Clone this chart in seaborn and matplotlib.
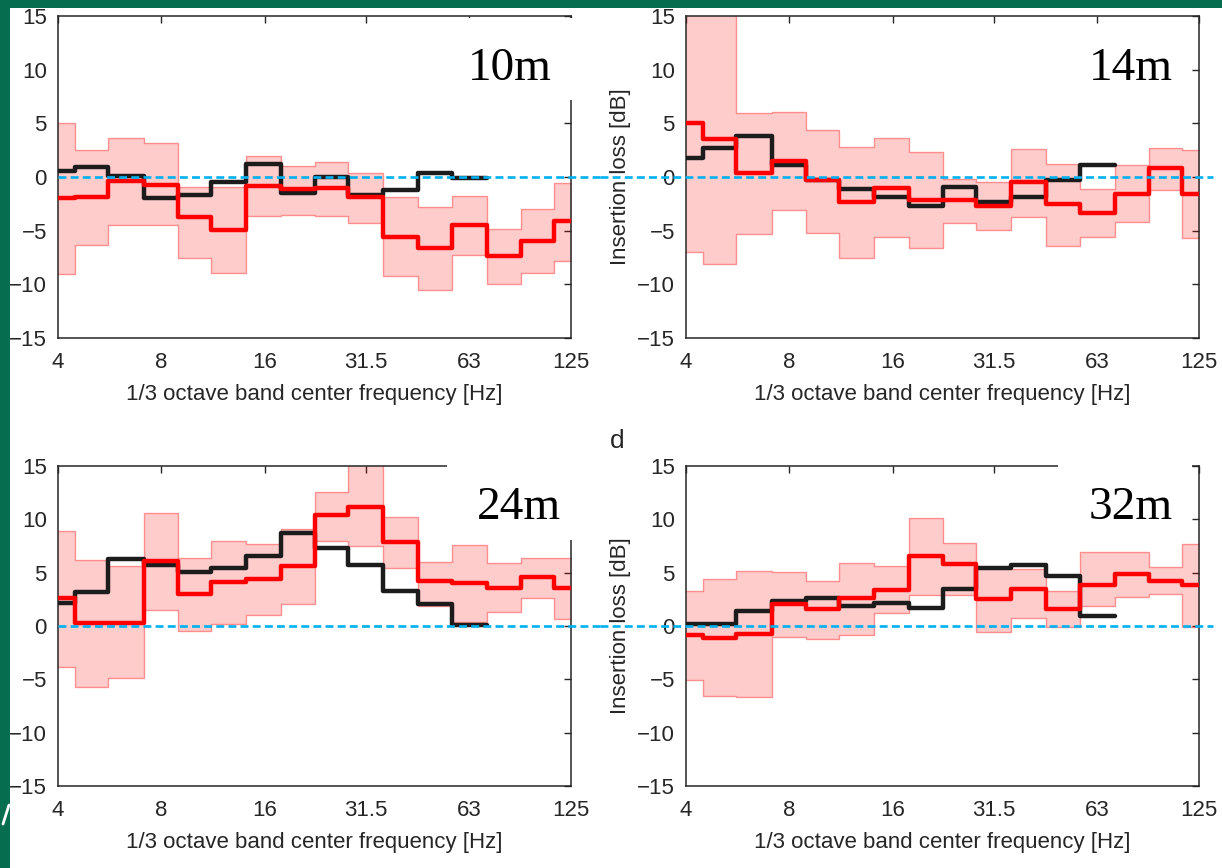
import numpy as np
import matplotlib
matplotlib.use("Agg")
import matplotlib.pyplot as plt
import seaborn as sns
from matplotlib.patches import Rectangle
from matplotlib.lines import Line2D

# ---------------- data ----------------
bands = [4, 5, 6.3, 8, 10, 12.5, 16, 20, 25, 31.5, 40, 50, 63, 80, 100, 125]
tick_values = [4, 8, 16, 31.5, 63, 125]
tick_labels = ["4", "8", "16", "31.5", "63", "125"]
y_ticks = [-15, -10, -5, 0, 5, 10, 15]
panel_labels = ["10m", "14m", "24m", "32m"]

red_10 = [-2.0, -1.9, -0.4, -0.7, -3.75, -4.9, -0.85, -1.1, -1.0, -1.9, -5.6, -6.6, -4.45, -7.4, -6.0, -4.1]
black_10 = [0.6, 0.9, 0.1, -2.0, -1.7, -0.5, 1.2, -1.45, 0.0, -1.65, -1.25, 0.35, -0.05]
upper_10 = [5.0, 2.5, 3.6, 3.15, -0.95, -0.9, 2.0, 1.0, 1.4, 0.4, -1.9, -2.8, -1.8, -4.8, -3.0, -0.6]
lower_10 = [-9.05, -6.3, -4.5, -4.45, -7.55, -8.9, -3.6, -3.5, -3.6, -4.3, -9.2, -10.5, -7.3, -9.95, -8.9, -7.8]

red_14 = [5.0, 3.5, 0.4, 1.5, -0.3, -2.3, -1.05, -2.1, -2.1, -2.7, -0.5, -2.5, -3.4, -1.6, 0.8, -1.6]
black_14 = [1.8, 2.7, 3.8, 1.1, -0.3, -1.1, -1.9, -2.7, -0.9, -2.3, -1.9, -0.3, 1.1]
upper_14 = [17.0, 17.0, 6.0, 6.1, 4.4, 2.8, 3.6, 2.3, -0.2, -0.5, 2.6, 1.2, -1.1, 1.1, 2.7, 2.5]
lower_14 = [-7.0, -8.1, -5.3, -3.1, -5.2, -7.5, -5.6, -6.6, -4.3, -4.9, -3.7, -6.4, -5.6, -4.2, -1.2, -5.7]

red_24 = [2.6, 0.3, 0.3, 6.1, 3.0, 4.1, 4.4, 5.6, 10.4, 11.2, 7.9, 4.2, 4.0, 3.6, 4.6, 3.6]
black_24 = [2.2, 3.2, 6.3, 5.7, 5.1, 5.4, 6.6, 8.7, 7.3, 5.7, 3.3, 2.1, 0.05]
upper_24 = [8.9, 6.2, 5.6, 10.6, 6.4, 8.0, 7.7, 9.1, 12.6, 16.0, 10.2, 6.0, 7.6, 5.9, 6.4, 6.4]
lower_24 = [-3.8, -5.7, -4.9, 1.5, -0.5, 0.2, 1.05, 2.1, 8.0, 7.5, 5.4, 1.9, 0.4, 1.3, 2.6, 0.7]

red_32 = [-0.85, -1.1, -0.75, 2.1, 1.55, 2.6, 3.4, 6.6, 5.8, 2.5, 3.45, 1.55, 3.85, 4.85, 4.2, 3.85]
black_32 = [0.2, 0.2, 1.45, 2.3, 2.6, 1.9, 2.2, 1.7, 3.45, 5.4, 5.7, 4.7, 0.9]
upper_32 = [3.3, 4.4, 5.2, 5.05, 4.25, 5.9, 5.6, 10.1, 7.8, 5.5, 5.3, 3.3, 6.9, 6.95, 5.55, 7.7]
lower_32 = [-5.05, -6.6, -6.7, -1.0, -1.25, -0.85, 1.25, 2.9, 2.9, -0.6, 0.75, -0.1, 1.9, 2.7, 3.0, -0.1]

panels = [
    (red_10, black_10, upper_10, lower_10),
    (red_14, black_14, upper_14, lower_14),
    (red_24, black_24, upper_24, lower_24),
    (red_32, black_32, upper_32, lower_32),
]

# ---------------- style ----------------
sns.set_style("white")
plt.rcParams["font.family"] = ["Liberation Sans", "DejaVu Sans"]
plt.rcParams["axes.unicode_minus"] = True

W, H = 1222, 868
fig = plt.figure(figsize=(W / 100, H / 100), dpi=100)
fig.patch.set_facecolor("white")

def fx(px):
    return px / W

def fy(py):
    return 1 - py / H

GREEN = "#066E4E"
TXT = "#262626"

# band edges (geometric midpoints between band centres)
c = np.asarray(bands, float)
EDGES = np.concatenate([[c[0] / 2 ** (1 / 6)], np.sqrt(c[:-1] * c[1:]), [c[-1] * 2 ** (1 / 6)]])

def steps(values):
    v = np.asarray(values, float)
    e = EDGES[: len(v) + 1]
    return np.repeat(e, 2)[1:-1], np.repeat(v, 2)

# axes rectangles in pixels: (left, top, right, bottom)
rects = [(58, 16, 571, 338), (686, 16, 1199, 338), (58, 466, 571, 786), (686, 466, 1199, 786)]
axes = []
for (l, t, r, b) in rects:
    ax = fig.add_axes([fx(l), fy(b), fx(r - l), (b - t) / H])
    axes.append(ax)

for i, (ax, (red, black, upper, lower)) in enumerate(zip(axes, panels)):
    xu, yu = steps(upper)
    xl, yl = steps(lower)
    ax.fill_between(xu, yl, yu, facecolor=(1, 0, 0, 0.2), edgecolor=(1, 0, 0, 0.38), lw=1.0, zorder=1)
    xb, yb = steps(black)
    sns.lineplot(x=xb, y=yb, ax=ax, estimator=None, sort=False, color="#1c1c1c", lw=3.2, zorder=3)
    xr, yr = steps(red)
    sns.lineplot(x=xr, y=yr, ax=ax, estimator=None, sort=False, color="#ff0000", lw=3.2, zorder=4)

    ax.set_xscale("log")
    ax.set_xlim(bands[0], bands[-1])
    ax.set_ylim(-15, 15)
    ax.set_xticks(tick_values)
    ax.set_xticklabels(tick_labels)
    ax.xaxis.set_minor_locator(matplotlib.ticker.NullLocator())
    ax.set_yticks(y_ticks)
    ax.tick_params(direction="in", top=True, right=True, length=5, width=1.0,
                   colors=TXT, labelsize=16)
    ax.tick_params(axis="x", pad=10)
    ax.tick_params(axis="y", pad=8)
    for s in ax.spines.values():
        s.set_color(TXT)
        s.set_linewidth(1.1)
    ax.set_xlabel("1/3 octave band center frequency [Hz]", fontsize=16, color=TXT, labelpad=8)
    if i % 2 == 1:
        ax.set_ylabel("Insertion loss [dB]", fontsize=16, color=TXT, labelpad=4)

    # zero reference line (extends beyond the axes like the pasted original)
    l, t, r, b = rects[i]
    if i % 2 == 0:
        xmin, xmax = 0.0, (600 - l) / (r - l)
    else:
        xmin, xmax = (600 - l) / (r - l), (1213 - l) / (r - l)
    ax.axhline(0, xmin=xmin, xmax=xmax, color="#00B0F0", lw=1.9, dashes=(3.0, 1.6),
               clip_on=False, zorder=6)

# white label boxes and distance labels
boxes = [(455, 18, 578, 100), None, (447, 458, 578, 540), (1058, 458, 1192, 540)]
label_pos = [(510, 80), (1131, 80), (519, 519), (1131, 519)]
for box, lab, (px, py) in zip(boxes, panel_labels, label_pos):
    if box is not None:
        l, t, r, b = box
        fig.add_artist(Rectangle((fx(l), fy(b)), fx(r - l), (b - t) / H, transform=fig.transFigure,
                                 facecolor="white", edgecolor="none", zorder=20))
    fig.text(fx(px), fy(py), lab, family=["Liberation Serif", "DejaVu Serif"], fontsize=34,
             ha="center", va="baseline", color="black", zorder=21)

fig.text(fx(617), fy(441), "d", fontsize=19, color=TXT, ha="center", va="center", zorder=21)

# green slide border
fig.add_artist(Rectangle((0, fy(8)), 1, 8 / H, transform=fig.transFigure,
                         facecolor=GREEN, edgecolor="none", zorder=30))
fig.add_artist(Rectangle((0, 0), fx(10), 1, transform=fig.transFigure,
                         facecolor=GREEN, edgecolor="none", zorder=30))
# small white stroke of a cropped logo on the left border
fig.add_artist(Line2D([fx(3), fx(9)], [fy(824), fy(805)], transform=fig.transFigure,
                      color="white", lw=2.0, zorder=31))

fig.savefig("out.png", dpi=100, facecolor="white")
